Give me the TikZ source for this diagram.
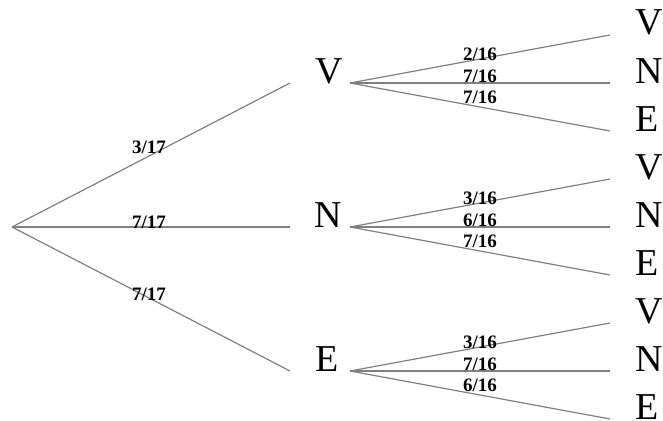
\documentclass[tikz,border=0pt]{standalone}
\usepackage{fontspec}
\setmainfont{Liberation Serif}
\begin{document}
\begin{tikzpicture}[x=1pt,y=-1pt,
  edge/.style={draw=black!50, line width=1.2pt},
  big/.style={inner sep=0pt, anchor=base west, font=\fontsize{38}{38}\selectfont},
  prob/.style={inner sep=0pt, anchor=base, font=\bfseries\fontsize{19}{19}\selectfont}]
\useasboundingbox (0,0) rectangle (663,420);
\coordinate (r) at (12,227);
% level-1 line ends and letters
\coordinate (aV) at (290,83);
\coordinate (aN) at (290,227);
\coordinate (aE) at (290,371);
\node[big] (nV) at (315,83) {V};
\node[big] (nN) at (314,227) {N};
\node[big] (nE) at (315,371) {E};
\coordinate (bV) at (350,83);
\coordinate (bN) at (350,227);
\coordinate (bE) at (350,371);
\draw[edge] (r) -- (aV);
\draw[edge] (r) -- (aN);
\draw[edge] (r) -- (aE);
\node[prob] (p1) at (149,153) {3/17};
\node[prob] (p2) at (149,228) {7/17};
\node[prob] (p3) at (149,300) {7/17};
% leaves
\foreach \i/\l in {0/V,1/N,2/E,3/V,4/N,5/E,6/V,7/N,8/E}{
  \coordinate (c\i) at (610,{35+48*\i});
  \node[big] (L\i) at (635,{35+48*\i}) {\l};
}
\draw[edge] (bV) -- (c0);
\draw[edge] (bV) -- (c1);
\draw[edge] (bV) -- (c2);
\draw[edge] (bN) -- (c3);
\draw[edge] (bN) -- (c4);
\draw[edge] (bN) -- (c5);
\draw[edge] (bE) -- (c6);
\draw[edge] (bE) -- (c7);
\draw[edge] (bE) -- (c8);
\node[prob] (q1) at (480,60) {2/16};
\node[prob] (q2) at (480,82) {7/16};
\node[prob] (q3) at (480,103) {7/16};
\node[prob] (q4) at (480,204) {3/16};
\node[prob] (q5) at (480,226) {6/16};
\node[prob] (q6) at (480,247) {7/16};
\node[prob] (q7) at (480,348) {3/16};
\node[prob] (q8) at (480,370) {7/16};
\node[prob] (q9) at (480,391) {6/16};
\end{tikzpicture}
\end{document}
